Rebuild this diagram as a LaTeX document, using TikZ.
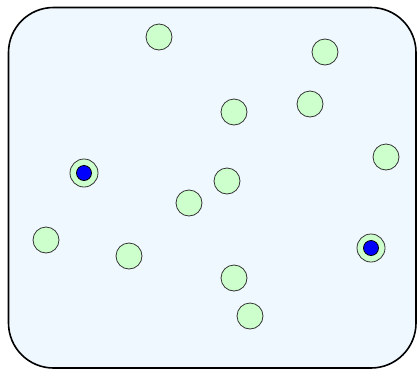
\documentclass[tikz,border=0pt]{standalone}
\definecolor{bgblue}{HTML}{F0F8FF}
\definecolor{nodegreen}{HTML}{CCFFCC}
\tikzset{
  plain/.style={circle,draw=black!80,fill=nodegreen,line width=0.8pt,minimum size=26pt,inner sep=0pt},
  special/.style={circle,draw=black!80,fill=nodegreen,line width=0.8pt,minimum size=28pt,inner sep=0pt},
  core/.style={circle,draw=black,fill=blue,line width=0.8pt,minimum size=15pt,inner sep=0pt}
}
\begin{document}
\begin{tikzpicture}[x=1pt,y=-1pt]
\useasboundingbox (0,0) rectangle (417,370);
\draw[fill=bgblue,line width=1.6pt,rounded corners=45pt] (8.5,7.5) rectangle (416,368);
\node[plain] (n1) at (159,37) {};
\node[plain] (n2) at (325,52) {};
\node[plain] (n3) at (234,112) {};
\node[plain] (n4) at (310,104) {};
\node[plain] (n5) at (386,157) {};
\node[special] (s1) at (84,173) {};
\node[core] (c1) at (s1) {};
\node[plain] (n7) at (227,181) {};
\node[plain] (n8) at (189,203) {};
\node[plain] (n9) at (46,240) {};
\node[plain] (n10) at (129,256) {};
\node[special] (s2) at (371,248) {};
\node[core] (c2) at (s2) {};
\node[plain] (n12) at (234,278) {};
\node[plain] (n13) at (250,316) {};
\end{tikzpicture}
\end{document}
